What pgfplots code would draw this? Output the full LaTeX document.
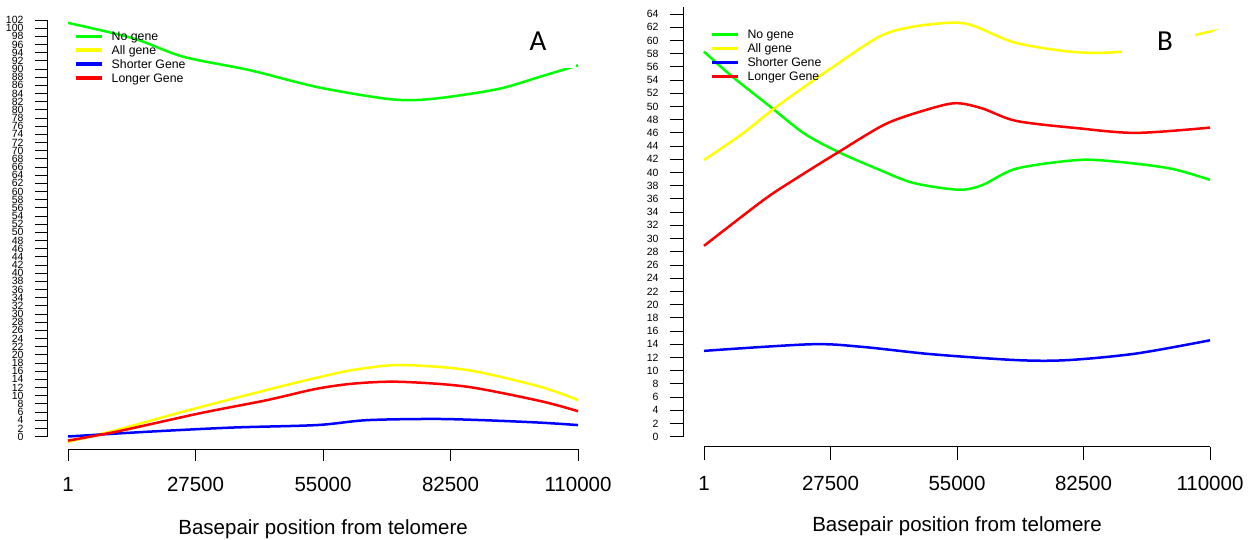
\documentclass[border=0pt]{standalone}
\usepackage{pgfplots}
\pgfplotsset{compat=1.18}
\usepackage{fontspec}
\setmainfont{Liberation Sans}
\newfontfamily\calibri{Carlito}
\definecolor{cgreen}{RGB}{0,255,0}
\definecolor{cyellow}{RGB}{255,255,0}
\definecolor{cblue}{RGB}{0,0,255}
\definecolor{cred}{RGB}{255,0,0}

\pgfplotstableread{
x y
1 101.3
14090 97.5
24870 93.0
39250 89.7
53640 85.6
68010 82.8
75000 82.4
82390 83.2
93180 85.2
101800 88.1
110000 90.9
}\AgreenT
\pgfplotstableread{
x y
1 -1.3
10500 1.6
24870 6.1
42860 11.4
53640 14.4
62000 16.4
71600 17.5
86000 16.3
101800 12.2
110000 8.9
}\AyellowT
\pgfplotstableread{
x y
1 0.0
17690 1.2
35650 2.2
53640 2.8
64420 4.0
78780 4.3
89560 4.0
101800 3.4
110000 2.8
}\AblueT
\pgfplotstableread{
x y
1 -1.0
10500 1.2
28470 5.7
42860 8.9
53640 11.7
62000 13.0
71600 13.4
86000 12.2
101800 8.7
110000 6.2
}\AredT

\pgfplotstableread{
x y
1 58.3
6180 54.5
14360 50.0
21800 45.9
29250 43.1
38180 40.4
45620 38.4
55300 37.4
60510 38.1
67950 40.6
81350 41.9
90280 41.6
101440 40.6
110000 38.9
}\BgreenT
\pgfplotstableread{
x y
1 41.9
8410 45.9
15850 50.0
27020 55.5
38180 60.6
45620 62.1
54550 62.7
59010 62.1
67950 59.6
81350 58.2
93260 58.5
108500 61.1
110000 61.3
}\ByellowT
\pgfplotstableread{
x y
1 13.0
23300 14.0
34470 13.6
49340 12.5
67950 11.6
79110 11.6
93990 12.6
110000 14.6
}\BblueT
\pgfplotstableread{
x y
1 28.9
12870 35.8
19570 38.9
29250 43.1
39660 47.4
49340 49.7
54920 50.5
60510 49.7
67950 47.8
81350 46.7
93990 46.0
110000 46.8
}\BredT

\pgfplotsset{
  rstyle/.style={
    scale only axis,
    axis lines*=left,
    axis line style={draw=none},
    tick align=outside,
    major tick length=12pt,
    every tick/.style={black, line width=0.9pt},
    scaled x ticks=false,
    xtick={1,27500,55000,82500,110000},
    xticklabels={1,27500,55000,82500,110000},
    /pgf/number format/assume math mode=true,
    xticklabel style={font=\fontsize{20.5}{24}\selectfont, yshift=-13pt},
    yticklabel style={font=\fontsize{10.5}{12}\selectfont, xshift=-8pt},
    xlabel={Basepair position from telomere},
    legend cell align=left,
    legend style={draw=none, fill=none, anchor=north west, inner sep=0pt,
      font=\fontsize{12.3}{13}\selectfont,
      nodes={inner sep=1pt}, row sep=1.6pt,
      /tikz/every odd column/.style={column sep=7pt}},
    legend image code/.code={\draw[#1, line width=3.5pt] (0pt,0.5pt) -- (26pt,0.5pt);},
    every axis plot/.append style={line width=2.5pt, smooth},
    clip=false,
  }
}

\begin{document}
\begin{tikzpicture}
\useasboundingbox (0,0) rectangle (1256pt,539pt);

% ---------- Panel A ----------
\begin{axis}[rstyle,
  at={(47pt,90pt)}, anchor=south west,
  width=540.3pt, height=429pt,
  xmin=-4530, xmax=112000, ymin=-3.06, ymax=102,
  ytick={0,2,...,102},
  xlabel style={font=\fontsize{20.5}{24}\selectfont, at={(axis description cs:0.511,0)}, anchor=center, yshift=-80pt},
  legend style={at={(axis description cs:0.050,0.975)}},
]
\addplot[cgreen] table[x=x,y=y] {\AgreenT};
\addlegendentry{No gene}
\addplot[cyellow] table[x=x,y=y] {\AyellowT};
\addlegendentry{All gene}
\addplot[cblue] table[x=x,y=y] {\AblueT};
\addlegendentry{Shorter Gene}
\addplot[cred] table[x=x,y=y] {\AredT};
\addlegendentry{Longer Gene}
\draw[line width=1pt] (axis cs:1,-3.06) -- (axis cs:110000,-3.06);
\draw[line width=1pt] (axis cs:-4530,0) -- (axis cs:-4530,102);
\end{axis}

% ---------- Panel B ----------
\begin{axis}[rstyle,
  at={(683pt,92.3pt)}, anchor=south west,
  width=536.2pt, height=439.3pt,
  xmin=-4565, xmax=112000, ymin=-1.51, ymax=65,
  ytick={0,2,...,64},
  major tick length=13pt,
  xlabel style={font=\fontsize{20.5}{24}\selectfont, at={(axis description cs:0.511,0)}, anchor=center, yshift=-79pt},
  legend style={at={(axis description cs:0.050,0.951)}},
]
\addplot[cgreen] table[x=x,y=y] {\BgreenT};
\addlegendentry{No gene}
\addplot[cyellow] table[x=x,y=y] {\ByellowT};
\addlegendentry{All gene}
\addplot[cblue] table[x=x,y=y] {\BblueT};
\addlegendentry{Shorter Gene}
\addplot[cred] table[x=x,y=y] {\BredT};
\addlegendentry{Longer Gene}
\draw[line width=1pt] (axis cs:1,-1.51) -- (axis cs:110000,-1.51);
\draw[line width=1pt] (axis cs:-4565,0) -- (axis cs:-4565,65);
\end{axis}

% Panel labels on white boxes
\fill[white] (505pt,471pt) rectangle (576pt,529pt);
\node[font=\calibri\fontsize{29}{30}\selectfont, inner sep=0pt] at (538pt,498pt) {A};
\fill[white] (1122pt,464pt) rectangle (1195pt,529pt);
\node[font=\calibri\fontsize{29}{30}\selectfont, inner sep=0pt] at (1165pt,498pt) {B};
\end{tikzpicture}
\end{document}
